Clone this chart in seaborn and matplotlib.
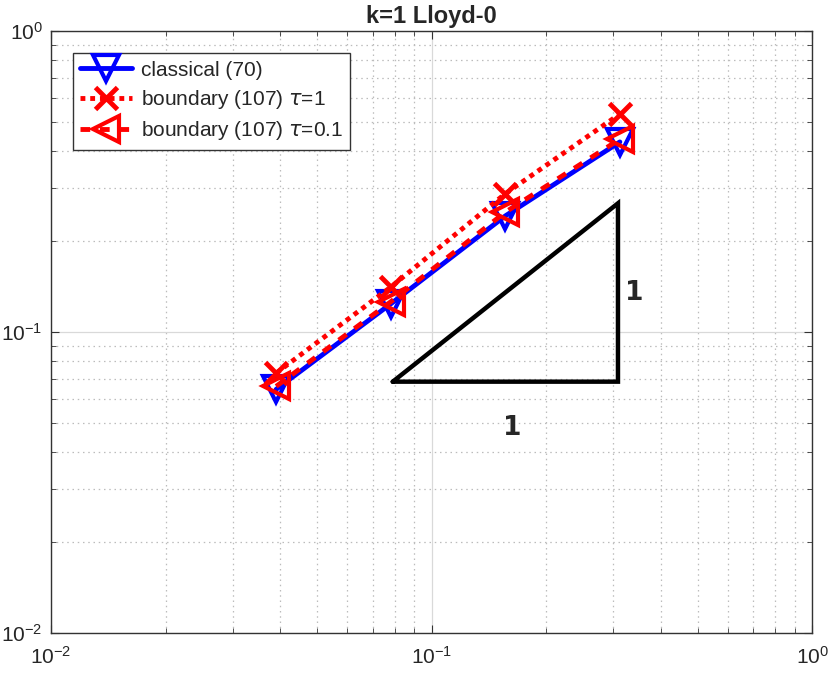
import numpy as np
import pandas as pd
import matplotlib
matplotlib.use("Agg")
import matplotlib.pyplot as plt
import seaborn as sns

# mesh sizes and errors
h = [0.0390625, 0.078125, 0.15625, 0.3125]
err_classical = [0.0645, 0.124, 0.243, 0.428]
err_tau1 = [0.073, 0.141, 0.288, 0.53]
err_tau01 = [0.066, 0.126, 0.25, 0.437]
labels = ["classical (70)", r"boundary (107) $\tau$=1", r"boundary (107) $\tau$=0.1"]

# slope triangle corners
tri_x = [0.0791, 0.309, 0.309, 0.0791]
tri_y = [0.0684, 0.0684, 0.2677, 0.0684]

sns.set_style("ticks")
plt.rcParams["font.family"] = ["Liberation Sans", "DejaVu Sans"]

fig = plt.figure(figsize=(8.3, 6.74), dpi=100)
ax = fig.add_axes([0.0614, 0.0608, 0.917, 0.8932])
ax.set_xscale("log")
ax.set_yscale("log")

df = pd.DataFrame({"h": h, "c": err_classical, "t1": err_tau1, "t01": err_tau01})

sns.lineplot(data=df, x="h", y="c", ax=ax, color="blue", lw=3.5, marker="v",
             ms=19, mew=3, mfc="none", mec="blue", label=labels[0], zorder=3)
sns.lineplot(data=df, x="h", y="t1", ax=ax, color="red", lw=3.5, dashes=(1, 1),
             marker="x", ms=16, mew=3.5, mec="red", label=labels[1], zorder=4)
sns.lineplot(data=df, x="h", y="t01", ax=ax, color="red", lw=3.5, dashes=(2.0, 2.0),
             marker="<", ms=19, mew=3, mfc="none", mec="red", label=labels[2], zorder=5)
for ln in ax.get_lines()[:3]:
    ln.set_dash_capstyle("butt")

ax.plot(tri_x, tri_y, color="black", lw=3.2, solid_joinstyle="miter", zorder=2)
ax.text(0.322, 0.135, "1", fontsize=19, fontweight="bold", family="DejaVu Sans",
        ha="left", va="center")
ax.text(0.163, 0.048, "1", fontsize=19, fontweight="bold", family="DejaVu Sans",
        ha="center", va="center")

ax.set_xlim(1e-2, 1e0)
ax.set_ylim(1e-2, 1e0)
ax.set_xlabel("")
ax.set_ylabel("")
ax.set_title("k=1 Lloyd-0", fontsize=17, fontweight="bold", pad=6)

ax.grid(True, which="major", color="#d9d9d9", lw=0.9, ls="-")
ax.grid(True, which="minor", color="#bcbcbc", lw=0.9, ls=(0, (1.2, 3)))
ax.set_axisbelow(True)
ax.tick_params(which="both", direction="in", top=True, right=True, labelsize=15,
               color="#333333")
ax.tick_params(which="major", length=6)
ax.tick_params(which="minor", length=3.5)
ax.tick_params(axis="x", which="major", pad=9)
ax.tick_params(axis="y", which="major", pad=6)
for s in ax.spines.values():
    s.set_color("#333333")
    s.set_linewidth(1.0)

leg = ax.legend(loc="upper left", bbox_to_anchor=(0.029, 0.963), borderaxespad=0,
                fontsize=15, frameon=True, fancybox=False, framealpha=1,
                handlelength=2.5, handletextpad=0.4, labelspacing=0.4,
                borderpad=0.35)
leg.get_frame().set_edgecolor("#333333")
leg.get_frame().set_linewidth(1.0)

fig.savefig("out.png", dpi=100)
